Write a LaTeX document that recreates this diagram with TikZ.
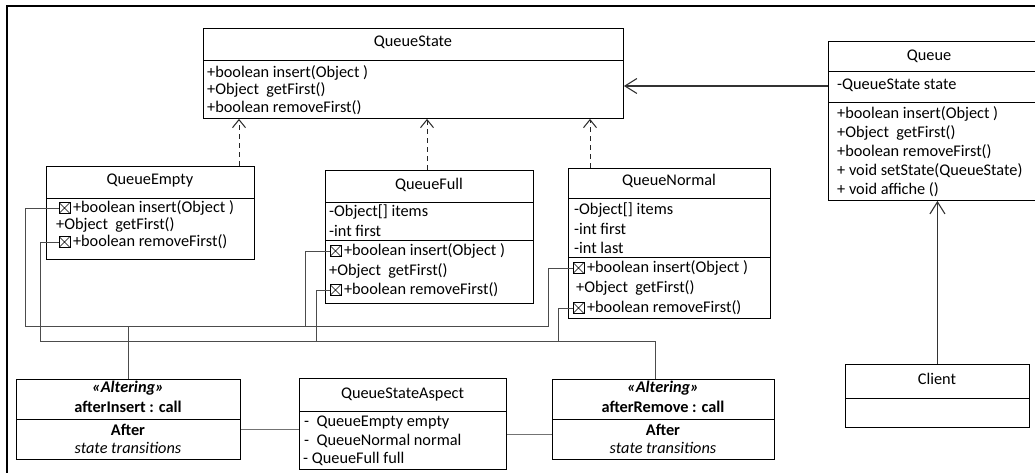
\documentclass[tikz,border=0pt]{standalone}
\usepackage{fontspec}
\setmainfont{Carlito}
\usetikzlibrary{arrows.meta}
\begin{document}
\begin{tikzpicture}[x=1pt,y=-1pt,
  font=\fontsize{16.3}{18}\selectfont,
  box/.style={draw, line width=0.9pt, inner sep=0pt, anchor=north west},
  rule/.style={line width=0.9pt},
  txt/.style={inner sep=0pt, anchor=west},
  ttl/.style={inner sep=0pt, anchor=center},
  xbox/.style={draw, line width=0.6pt, minimum size=10.5pt, inner sep=0pt, anchor=west,
    path picture={\draw[line width=0.5pt]
      (path picture bounding box.north west) -- (path picture bounding box.south east)
      (path picture bounding box.north east) -- (path picture bounding box.south west);}},
  wire/.style={draw=black!70, line width=0.9pt},
  link/.style={draw=black!55, line width=0.9pt},
  dep/.style={draw=black!85, line width=1pt, dash pattern=on 5pt off 4pt,
    -{Straight Barb[length=8pt,width=13pt,line width=1pt]}},
  assoc/.style={draw=black!80, line width=1.1pt,
    -{Straight Barb[length=12pt,width=15pt,line width=1.1pt]}}
]
\useasboundingbox (0,0) rectangle (1035,473);
\clip (0,0) rectangle (1035,473);

% frame
\draw[line width=2pt] (6.5,474) -- (6.5,6.5) -- (1036,6.5);

% QueueState
\node[box, minimum width=420pt, minimum height=90pt] (qs) at (203,28) {};
\draw[rule] (203,60) -- (623,60);
\node[ttl] (qsT) at (413,42) {QueueState};
\node[txt] (qs1) at (207,72.5) {+boolean insert(Object )};
\node[txt] (qs2) at (207,90) {+Object\ \ getFirst()};
\node[txt] (qs3) at (207,107.5) {+boolean removeFirst()};

% Queue
\node[box, minimum width=215pt, minimum height=159pt] (qu) at (828,41) {};
\draw[rule] (828,71) -- (1045,71);
\draw[rule] (828,102) -- (1045,102);
\node[ttl] (quT) at (929,56) {Queue};
\node[txt] (qu0) at (837,85) {-QueueState state};
\node[txt] (qu1) at (837,114) {+boolean insert(Object )};
\node[txt] (qu2) at (837,133) {+Object\ \ getFirst()};
\node[txt] (qu3) at (837,152) {+boolean removeFirst()};
\node[txt] (qu4) at (837,171) {+ void setState(QueueState)};
\node[txt] (qu5) at (837,190) {+ void affiche ()};

% Client
\node[box, minimum width=184pt, minimum height=63pt] (cl) at (845,364) {};
\draw[rule] (845,398) -- (1029,398);
\node[ttl] (clT) at (937,379) {Client};

% QueueEmpty
\node[box, minimum width=208pt, minimum height=93pt] (qe) at (46,166) {};
\draw[rule] (46,198) -- (254,198);
\node[ttl] (qeT) at (150,181) {QueueEmpty};
\node[xbox] (qeI) at (59,208) {};
\node[txt] (qe1) at (qeI.east) {\,+boolean insert(Object )};
\node[txt] (qe2) at (56,225) {+Object\ \ getFirst()};
\node[xbox] (qeR) at (59,242) {};
\node[txt] (qe3) at (qeR.east) {\,+boolean removeFirst()};

% QueueFull
\node[box, minimum width=208pt, minimum height=133pt] (qf) at (325,170) {};
\draw[rule] (325,202) -- (533,202);
\draw[rule] (325,240) -- (533,240);
\node[ttl] (qfT) at (429,185) {QueueFull};
\node[txt] (qfA) at (329,212) {-Object[] items};
\node[txt] (qfB) at (329,231) {-int first};
\node[xbox] (qfI) at (330,251) {};
\node[txt] (qf1) at (qfI.east) {\,+boolean insert(Object )};
\node[txt] (qf2) at (329,271) {+Object\ \ getFirst()};
\node[xbox] (qfR) at (330,290) {};
\node[txt] (qf3) at (qfR.east) {\,+boolean removeFirst()};

% QueueNormal
\node[box, minimum width=202pt, minimum height=150pt] (qn) at (568,168) {};
\draw[rule] (568,198) -- (770,198);
\draw[rule] (568,257) -- (770,257);
\node[ttl] (qnT) at (669,181) {QueueNormal};
\node[txt] (qnA) at (574,210) {-Object[] items};
\node[txt] (qnB) at (574,229) {-int first};
\node[txt] (qnC) at (574,248) {-int last};
\node[xbox] (qnI) at (573,268) {};
\node[txt] (qn1) at (qnI.east) {\,+boolean insert(Object )};
\node[txt] (qn2) at (576,288) {+Object\ \ getFirst()};
\node[xbox] (qnR) at (573,308) {};
\node[txt] (qn3) at (qnR.east) {\,+boolean removeFirst()};

% afterInsert advice
\node[box, minimum width=224pt, minimum height=80pt] (ai) at (16,379) {};
\draw[rule] (16,419) -- (240,419);
\node[ttl] (ai1) at (128,388) {\textbf{\textit{«Altering»}}};
\node[ttl] (ai2) at (128,407) {\textbf{afterInsert : call}};
\node[ttl] (ai3) at (128,430) {\textbf{After}};
\node[ttl] (ai4) at (128,448) {\textit{state transitions}};

% QueueStateAspect
\node[box, minimum width=207pt, minimum height=91pt] (qsa) at (299,378) {};
\draw[rule] (299,411) -- (506,411);
\node[ttl] (qsaT) at (402.5,395) {QueueStateAspect};
\node[txt] (qsa1) at (304,423) {-\ \ QueueEmpty empty};
\node[txt] (qsa2) at (304,441) {-\ \ QueueNormal normal};
\node[txt] (qsa3) at (303,458.5) {- QueueFull full};

% afterRemove advice
\node[box, minimum width=222pt, minimum height=80pt] (ar) at (552,379) {};
\draw[rule] (552,419) -- (774,419);
\node[ttl] (ar1) at (663,388) {\textbf{\textit{«Altering»}}};
\node[ttl] (ar2) at (663,407) {\textbf{afterRemove : call}};
\node[ttl] (ar3) at (663,430) {\textbf{After}};
\node[ttl] (ar4) at (663,448) {\textit{state transitions}};

% realizations of QueueState
\draw[dep] ([xshift=193pt]qe.north west) -- ([xshift=193pt]qe.north west |- qs.south);
\draw[dep] ([xshift=102pt]qf.north west) -- ([xshift=102pt]qf.north west |- qs.south);
\draw[dep] ([xshift=22pt]qn.north west) -- ([xshift=22pt]qn.north west |- qs.south);

% associations
\coordinate (quState) at (828,86);
\draw[assoc] (quState) -- (quState -| qs.east);
\draw[assoc] (cl.north) -- (cl.north |- qu.south);

% insert join points
\coordinate (insL) at (25,326);
\coordinate (insF) at (305,326);
\coordinate (insR) at (548,326);
\draw[wire] (qeI.west) -| (insL) -- (insR) |- (qnI.west);
\draw[wire] (qfI.west) -| (insF);
\draw[wire] (ai.north |- insL) -- (ai.north);

% removeFirst join points
\coordinate (remL) at (40,341.5);
\coordinate (remF) at (316,341.5);
\coordinate (remN) at (558,341.5);
\coordinate (remR) at (655,341.5);
\draw[wire] (qeR.west) -| (remL) -- (remR) -- (remR |- ar.north);
\draw[wire] (qfR.west) -| (remF);
\draw[wire] (qnR.west) -| (remN);

% aspect links
\draw[link] ([yshift=-10pt]ai.east) -- ([yshift=-10pt]ai.east -| qsa.west);
\draw[link] ([yshift=-10pt]qsa.east) -- ([yshift=-10pt]qsa.east -| ar.west);
\end{tikzpicture}
\end{document}
